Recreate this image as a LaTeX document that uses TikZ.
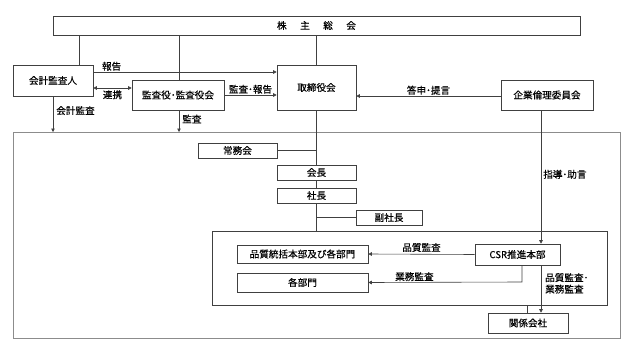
\documentclass[tikz,border=0pt]{standalone}
\usepackage{fontspec}
\setmainfont{Noto Sans CJK JP}[FakeBold=0.4]
\usetikzlibrary{arrows.meta}
\begin{document}
\begin{tikzpicture}[x=1pt,y=-1pt,
  every node/.style={font=\fontsize{9.6}{11.5}\selectfont, text=black},
  box/.style={draw=black!75, line width=0.6pt, rectangle, inner sep=0pt},
  ln/.style={draw=black!75, line width=0.6pt},
  arr/.style={ln, -{Triangle[length=3.5pt,width=3.5pt]}},
  darr/.style={ln, {Triangle[length=3.5pt,width=3.5pt]}-{Triangle[length=3.5pt,width=3.5pt]}},
  lbl/.style={inner sep=1pt}
]
\useasboundingbox (0,0) rectangle (633,359);
% outer grey box
\draw[draw=black!45, line width=0.8pt] (13,132) rectangle (620,338);
% top bar
\node[box, minimum width=527pt, minimum height=19pt] (soukai) at (316.5,25.5) {株\hspace{13.5pt}主\hspace{13.5pt}総\hspace{13.5pt}会};
% boxes
\node[box, minimum width=80pt, minimum height=31pt] (kaikei) at (53,80.5) {会計監査人};
\node[box, minimum width=92pt, minimum height=30pt] (kansayaku) at (178,95) {監査役･監査役会};
\node[box, minimum width=79pt, minimum height=45pt] (torishimari) at (316.5,87.5) {取締役会};
\node[box, minimum width=92pt, minimum height=30pt] (kigyo) at (547,95) {企業倫理委員会};
\node[box, minimum width=79pt, minimum height=15pt] (jomu) at (237.5,150.5) {常務会};
\node[box, minimum width=79pt, minimum height=15pt] (kaicho) at (316.5,172.5) {会長};
\node[box, minimum width=79pt, minimum height=15pt] (shacho) at (316.5,195.5) {社長};
\node[box, minimum width=66pt, minimum height=15pt] (fuku) at (389,217.5) {副社長};
% inner box
\draw[ln] (212,231) rectangle (607,305);
\node[box, minimum width=131pt, minimum height=18pt] (hinshitsu) at (302.5,254) {品質統括本部及び各部門};
\node[box, minimum width=131pt, minimum height=19pt] (kakubu) at (302.5,282.5) {各部門};
\node[box, minimum width=85pt, minimum height=21pt] (csr) at (517.5,254.5) {CSR推進本部};
\node[box, minimum width=80pt, minimum height=20pt] (kankei) at (528,323) {関係会社};
% coordinates
\coordinate (j1) at (316.5,150.5);
\coordinate (j2) at (316.5,217.5);
\coordinate (innerTop) at (316.5,231);
\coordinate (innerBot) at (527,305);
\coordinate (gyomuCorner) at (522,282);
\coordinate (outerTop1) at (53,132);
\coordinate (outerTop2) at (179,132);
% vertical lines from top bar
\draw[ln] (soukai.south -| kaikei.north east) ++(-14,0) coordinate (t1) -- (t1 |- kaikei.north);
\draw[ln] (179,35) -- (kansayaku.north -| 179,0);
\draw[ln] (soukai.south) -- (torishimari.north);
% arrows
\draw[arr] (kaikei.east |- 0,72) -- (torishimari.west |- 0,72) node[lbl, pos=0.1, above] {報告};
\draw[darr] (kaikei.east |- 0,88) -- (kansayaku.west |- 0,88) node[lbl, midway, below, yshift=-1pt] {連携};
\draw[arr] (kansayaku.east |- 0,95) -- (torishimari.west |- 0,95) node[lbl, midway, above] {監査･報告};
\draw[arr] (kigyo.west |- 0,96) -- (torishimari.east |- 0,96) node[lbl, midway, above] {答申･提言};
\draw[arr] (kaikei.south) -- (outerTop1) node[lbl, pos=0.4, right, xshift=2pt] {会計監査};
\draw[arr] (kansayaku.south -| 179,0) -- (outerTop2) node[lbl, pos=0.4, right, xshift=2pt] {監査};
% main trunk
\draw[ln] (torishimari.south) -- (kaicho.north);
\draw[ln] (jomu.east) -- (j1);
\draw[ln] (shacho.north) -- (kaicho.south);
\draw[ln] (shacho.south) -- (innerTop);
\draw[ln] (j2) -- (fuku.west);
% CSR etc.
\draw[arr] (kigyo.south -| 541,0) -- (csr.north -| 541,0) node[lbl, pos=0.48, right, xshift=1pt] {指導･助言};
\draw[arr] (csr.west) -- (hinshitsu.east) node[lbl, midway, above, yshift=1pt] {品質監査};
\draw[arr] (csr.south -| gyomuCorner) -- (gyomuCorner) -- (kakubu.east) node[lbl, pos=0.7, above] {業務監査};
\draw[arr] (csr.south -| 541,0) -- (kankei.north -| 541,0);
\node[lbl, align=left, anchor=north west] (hklabel) at (544,272) {品質監査･\\業務監査};
\draw[ln] (innerBot) -- (kankei.north -| innerBot);
\end{tikzpicture}
\end{document}
